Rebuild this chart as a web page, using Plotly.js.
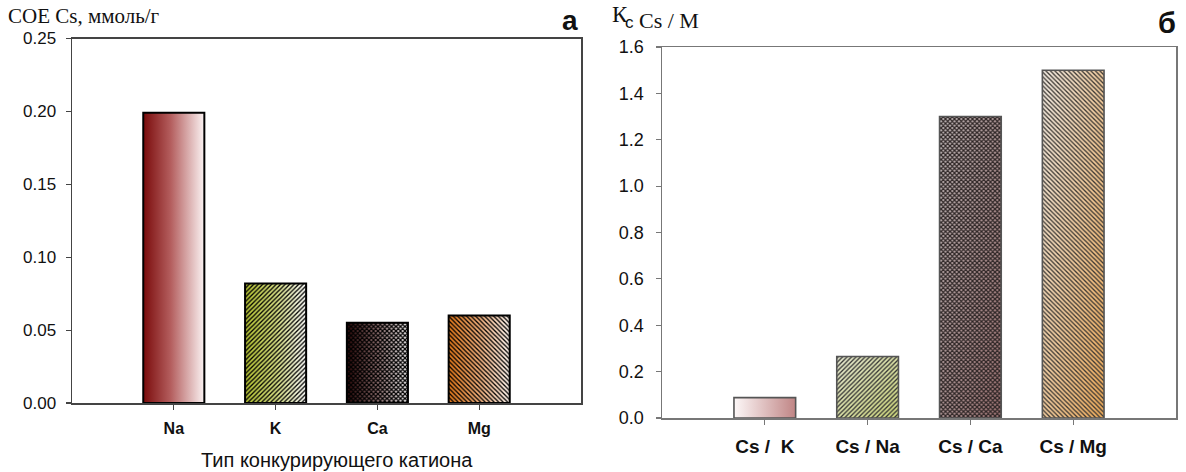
<!DOCTYPE html>
<html>
<head>
<meta charset="utf-8">
<script src="https://cdn.plot.ly/plotly-3.0.1.min.js"></script>
<style>
  html, body { margin: 0; padding: 0; background: #fff; }
  #chart { width: 1186px; height: 472px; }
</style>
</head>
<body>
<div id="chart"></div>
<script>
// ---- data ----
const cationCats = ['Na', 'K', 'Ca', 'Mg'];
const coeValues = [0.199, 0.082, 0.055, 0.060];

const ratioCats = ['Cs /\u00a0 K', 'Cs / Na', 'Cs / Ca', 'Cs / Mg'];
const kcValues = [0.088, 0.265, 1.30, 1.50];

const leftTicks = [0, 0.05, 0.10, 0.15, 0.20, 0.25];
const rightTicks = [0, 0.2, 0.4, 0.6, 0.8, 1.0, 1.2, 1.4, 1.6];

// ---- styles (fills drawn on top of the Plotly bars) ----
const H = [0, 0, 1, 0];      // horizontal gradient
const D = [0, 0, 1, 1];      // diagonal gradient (bbox)
const leftFills = [
  { grad: { dir: H, stops: [[0, '#7a0b0b'], [0.45, '#b45e5e'], [1, '#fbf3f3']] } },
  { grad: { dir: H, stops: [[0, '#b2c030'], [0.5, '#d6de80'], [1, '#ffffff']] }, pat: { kind: '/', size: 4.5, color: '#000', width: 1.3 } },
  { grad: { dir: H, stops: [[0, '#2a0606'], [0.5, '#957474'], [1, '#ffffff']] }, pat: { kind: 'x', size: 4.5, color: '#000', width: 1.3 } },
  { grad: { dir: H, stops: [[0, '#e07618'], [0.5, '#eeac78'], [1, '#fff6f0']] }, pat: { kind: '\\', size: 4.5, color: '#000', width: 1.3 } }
];
const rightFills = [
  { grad: { dir: H, stops: [[0, '#fdf8f8'], [1, '#c08585']] } },
  { grad: { dir: D, stops: [[0, '#e6e8d2'], [1, '#cdd67a']] }, pat: { kind: '/', size: 4.5, color: '#333', width: 1.3 } },
  { grad: { dir: D, stops: [[0, '#c9c2c2'], [1, '#a57878']] }, pat: { kind: 'x', size: 4.5, color: '#2e2626', width: 1.3 } },
  { grad: { dir: D, stops: [[0, '#f2ece4'], [1, '#eeaa58']] }, pat: { kind: '\\', size: 4.5, color: '#3a3632', width: 1.3 } }
];

const W = 1186, HGT = 472;
const px = x => x / W;
const py = y => 1 - y / HGT;

const sans = 'Liberation Sans, Arial, sans-serif';
const serif = 'Liberation Serif, Times New Roman, serif';

const traces = [
  {
    type: 'bar', x: cationCats, y: coeValues, xaxis: 'x', yaxis: 'y', width: 0.6,
    marker: { color: '#ffffff', line: { color: '#000', width: 2 } },
    hoverinfo: 'skip'
  },
  {
    type: 'bar', x: ratioCats, y: kcValues, xaxis: 'x2', yaxis: 'y2', width: 0.6,
    marker: { color: '#ffffff', line: { color: '#555', width: 1.6 } },
    hoverinfo: 'skip'
  }
];

const axBase = {
  showline: true, mirror: true, showgrid: false, zeroline: false,
  ticks: 'outside', ticklen: 5, tickwidth: 1.2, fixedrange: true
};

const layout = {
  width: W, height: HGT,
  margin: { l: 0, r: 0, t: 0, b: 0 },
  paper_bgcolor: '#fff', plot_bgcolor: '#fff',
  showlegend: false, hovermode: false, bargap: 0.4,
  xaxis: Object.assign({}, axBase, {
    domain: [px(72), px(581)], anchor: 'y', type: 'category', range: [-1, 4],
    linecolor: '#444', linewidth: 1.5, tickcolor: '#444',
    tickfont: { family: sans, size: 16, color: '#111', weight: 'bold' }, ticklabelstandoff: 5
  }),
  yaxis: Object.assign({}, axBase, {
    domain: [py(403), py(38.5)], anchor: 'x', range: [0, 0.25],
    tickvals: leftTicks, tickformat: '.2f',
    linecolor: '#444', linewidth: 1.5, tickcolor: '#444',
    tickfont: { family: sans, size: 17, color: '#111' }, ticklabelstandoff: 6
  }),
  xaxis2: Object.assign({}, axBase, {
    domain: [px(662), px(1176)], anchor: 'y2', type: 'category', range: [-1, 4],
    linecolor: '#777', linewidth: 1.5, tickcolor: '#777',
    tickfont: { family: sans, size: 19, color: '#111', weight: 'bold' }, ticklabelstandoff: 6
  }),
  yaxis2: Object.assign({}, axBase, {
    domain: [py(418), py(47)], anchor: 'x2', range: [0, 1.6],
    tickvals: rightTicks, tickformat: '.1f',
    linecolor: '#777', linewidth: 1.5, tickcolor: '#777',
    tickfont: { family: sans, size: 18, color: '#111' }, ticklabelstandoff: 8
  }),
  annotations: [
    { xref: 'paper', yref: 'paper', x: px(6), y: py(16), xanchor: 'left', yanchor: 'middle', showarrow: false,
      text: 'COE Cs, ммоль/г', font: { family: serif, size: 21, color: '#111' } },
    { xref: 'paper', yref: 'paper', x: px(570), y: py(20), xanchor: 'center', yanchor: 'middle', showarrow: false,
      text: 'а', font: { family: sans, size: 28, color: '#111', weight: 'bold' } },
    { xref: 'paper', yref: 'paper', x: px(337), y: py(460), xanchor: 'center', yanchor: 'middle', showarrow: false,
      text: 'Тип конкурирующего катиона', font: { family: sans, size: 20, color: '#111' } },
    { xref: 'paper', yref: 'paper', x: px(610), y: py(14), xanchor: 'left', yanchor: 'middle', showarrow: false,
      text: 'К', font: { family: serif, size: 23, color: '#111' } },
    { xref: 'paper', yref: 'paper', x: px(623), y: py(21), xanchor: 'left', yanchor: 'middle', showarrow: false,
      text: "<span style='font-family:Liberation Sans;font-size:17px'>c</span> Cs / M", font: { family: serif, size: 22, color: '#111' } },
    { xref: 'paper', yref: 'paper', x: px(1167), y: py(23), xanchor: 'center', yanchor: 'middle', showarrow: false,
      text: 'б', font: { family: sans, size: 29, color: '#111', weight: 'bold' } }
  ]
};

const NS = 'http://www.w3.org/2000/svg';
function el(tag, attrs, parent) {
  const e = document.createElementNS(NS, tag);
  for (const k in attrs) e.setAttribute(k, attrs[k]);
  if (parent) parent.appendChild(e);
  return e;
}
function makeGradient(defs, id, g) {
  const lg = el('linearGradient', { id, x1: g.dir[0], y1: g.dir[1], x2: g.dir[2], y2: g.dir[3], gradientUnits: 'objectBoundingBox' }, defs);
  g.stops.forEach(s => el('stop', { offset: s[0], 'stop-color': s[1] }, lg));
}
function makePattern(defs, id, p) {
  const s = p.size;
  const pat = el('pattern', { id, width: s, height: s, patternUnits: 'userSpaceOnUse' }, defs);
  let d = '';
  if (p.kind === '/' || p.kind === 'x')
    d += `M${-s / 2},${s / 2}L${s / 2},${-s / 2}M0,${s}L${s},0M${s / 2},${s * 1.5}L${s * 1.5},${s / 2}`;
  if (p.kind === '\\' || p.kind === 'x')
    d += `M${-s / 2},${s / 2}L${s / 2},${s * 1.5}M0,0L${s},${s}M${s / 2},${-s / 2}L${s * 1.5},${s / 2}`;
  el('path', { d, stroke: p.color, 'stroke-width': p.width, fill: 'none' }, pat);
}

function decorate(gd) {
  const svg = gd.querySelector('svg.main-svg');
  let defs = svg.querySelector('defs');
  if (!defs) defs = el('defs', {}, svg);
  const fills = [leftFills, rightFills];
  gd.querySelectorAll('.barlayer .trace').forEach((tr, ti) => {
    tr.querySelectorAll('.point path').forEach((path, pi) => {
      const st = fills[ti][pi];
      const gid = `grd_${ti}_${pi}`;
      makeGradient(defs, gid, st.grad);
      const under = path.cloneNode(true);
      under.style.fill = `url(#${gid})`;
      under.style.stroke = 'none';
      path.parentNode.insertBefore(under, path);
      if (st.pat) {
        const pid = `pat_${ti}_${pi}`;
        makePattern(defs, pid, st.pat);
        path.style.fill = `url(#${pid})`;
      } else {
        path.style.fill = 'none';
      }
    });
  });
}

const gd = document.getElementById('chart');
Plotly.newPlot(gd, traces, layout, { displayModeBar: false, staticPlot: true }).then(decorate);
</script>
</body>
</html>
